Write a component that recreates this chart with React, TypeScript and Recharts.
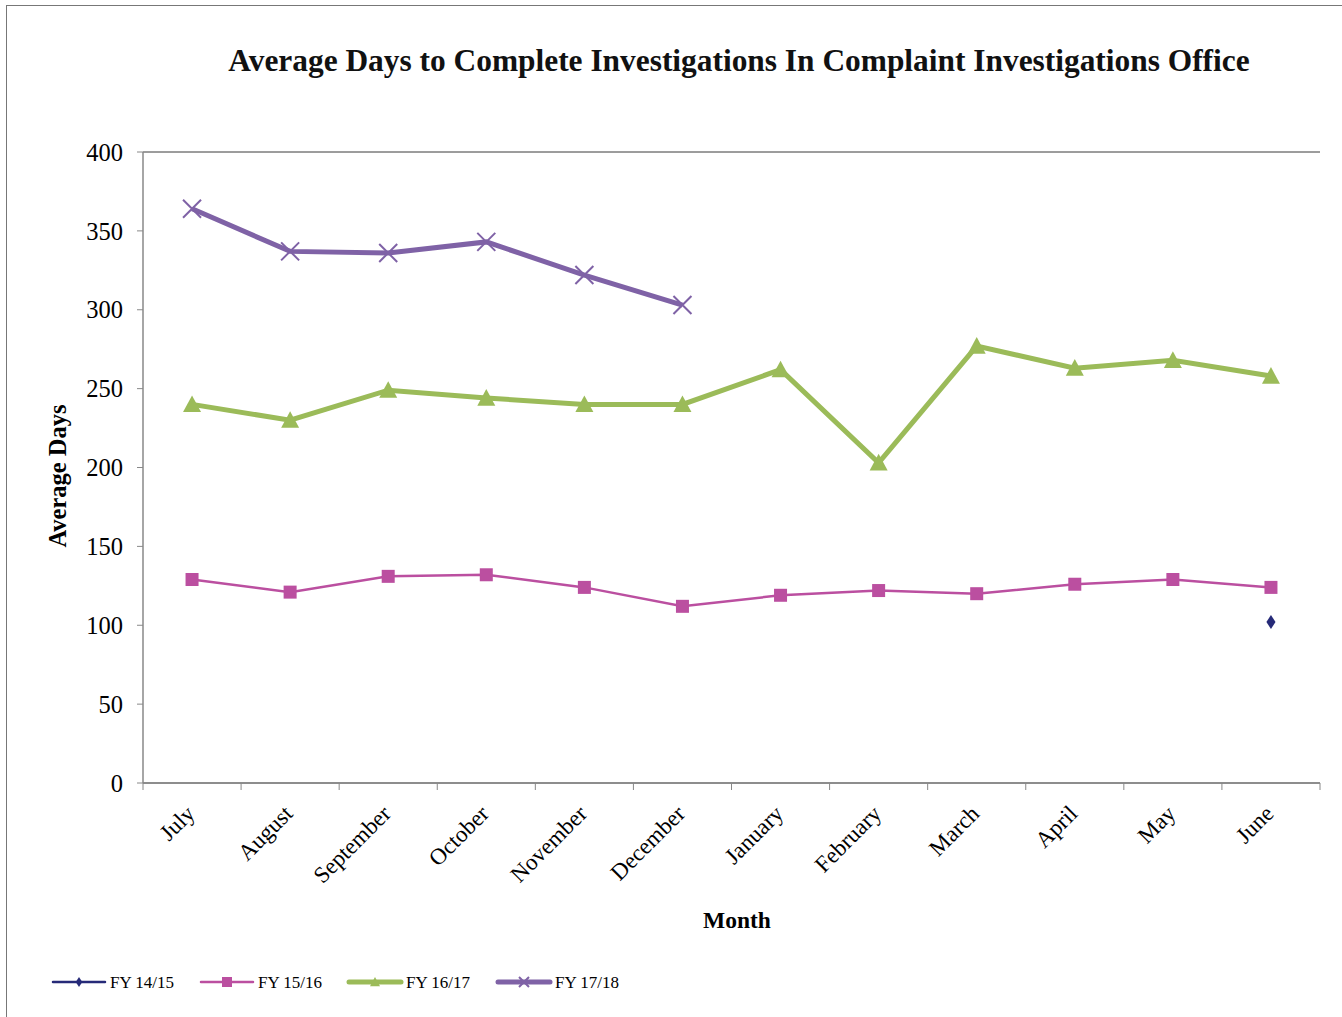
import React from 'react';
import { LineChart, Line, XAxis, YAxis, CartesianGrid } from 'recharts';

// 월별 데이터
const months = ['July', 'August', 'September', 'October', 'November', 'December', 'January', 'February', 'March', 'April', 'May', 'June'];
const fy1415 = [null, null, null, null, null, null, null, null, null, null, null, 102];
const fy1516 = [129, 121, 131, 132, 124, 112, 119, 122, 120, 126, 129, 124];
const fy1617 = [240, 230, 249, 244, 240, 240, 262, 203, 277, 263, 268, 258];
const fy1718 = [364, 337, 336, 343, 322, 303, null, null, null, null, null, null];
const yTicks = [0, 50, 100, 150, 200, 250, 300, 350, 400];

const data = months.map((m, i) => ({
  month: m,
  fy1415: fy1415[i],
  fy1516: fy1516[i],
  fy1617: fy1617[i],
  fy1718: fy1718[i],
}));

const NAVY = '#262a78';
const PINK = '#bb4fa0';
const GREEN = '#9bbb59';
const PURPLE = '#7f62a6';
const FONT = '"Liberation Serif", "Times New Roman", serif';

const PLOT_LEFT = 143;
const PLOT_RIGHT = 1320;
const PLOT_TOP = 152;
const PLOT_BOTTOM = 783;
const BAND = (PLOT_RIGHT - PLOT_LEFT) / months.length;
const X_AXIS_H = 100;

const Diamond = ({ cx, cy, s = 7 }: any) => (
  <path d={`M${cx},${cy - s}L${cx + s * 0.65},${cy}L${cx},${cy + s}L${cx - s * 0.65},${cy}Z`} fill={NAVY} />
);
const Square = ({ cx, cy, s = 6.5 }: any) => (
  <rect x={cx - s} y={cy - s} width={s * 2} height={s * 2} fill={PINK} />
);
const Triangle = ({ cx, cy, s = 9 }: any) => (
  <path d={`M${cx},${cy - s}L${cx + s},${cy + s * 0.85}L${cx - s},${cy + s * 0.85}Z`} fill={GREEN} />
);
const Cross = ({ cx, cy, s = 9 }: any) => (
  <path d={`M${cx - s},${cy - s}L${cx + s},${cy + s}M${cx + s},${cy - s}L${cx - s},${cy + s}`} stroke={PURPLE} strokeWidth={2} fill="none" />
);

const makeDot = (Shape: any) => (props: any) => {
  const { cx, cy, index, value } = props;
  if (value == null || cy == null || isNaN(cy)) return <g key={`d-${index}`} />;
  return <Shape key={`d-${index}`} cx={cx} cy={cy} />;
};

// X축 라벨 (회전) + 카테고리 경계 눈금
const MonthTick = ({ x, y, payload, index }: any) => {
  const tx = x + 4;
  const ty = y + 32;
  return (
    <g>
      <line x1={x - BAND / 2} y1={y} x2={x - BAND / 2} y2={y + 7} stroke="#888" />
      {index === months.length - 1 && (
        <line x1={x + BAND / 2} y1={y} x2={x + BAND / 2} y2={y + 7} stroke="#888" />
      )}
      <text x={tx} y={ty} textAnchor="end" fontSize={23} fontFamily={FONT} fill="#000" transform={`rotate(-45, ${tx}, ${ty})`}>
        {payload.value}
      </text>
    </g>
  );
};

const legendItems = [
  { name: 'FY 14/15', color: NAVY, width: 2.5, Shape: Diamond, x: 53 },
  { name: 'FY 15/16', color: PINK, width: 2.5, Shape: Square, x: 201 },
  { name: 'FY 16/17', color: GREEN, width: 5, Shape: Triangle, x: 349 },
  { name: 'FY 17/18', color: PURPLE, width: 5, Shape: Cross, x: 498 },
];

export default function App() {
  return (
    <div style={{ position: 'absolute', left: 0, top: 0, width: 1342, height: 1017, background: '#fff', overflow: 'hidden', fontFamily: FONT }}>
      <div style={{ position: 'absolute', left: 6, top: 5, width: 1345, height: 1030, border: '1.5px solid #777', boxSizing: 'border-box' }} />
      <div style={{ position: 'absolute', left: 0, top: 43, width: 1478, textAlign: 'center', fontSize: 31.4, fontWeight: 'bold', color: '#111' }}>
        Average Days to Complete Investigations In Complaint Investigations Office
      </div>
      <LineChart
        width={1342}
        height={1017}
        data={data}
        margin={{ top: PLOT_TOP, right: 1342 - PLOT_RIGHT, bottom: 1017 - PLOT_BOTTOM - X_AXIS_H, left: PLOT_LEFT - 60 }}
        style={{ position: 'absolute', left: 0, top: 0 }}
      >
        <CartesianGrid vertical={false} stroke="#3a3a3a" strokeWidth={1} />
        <XAxis
          dataKey="month"
          interval={0}
          tick={<MonthTick />}
          tickLine={false}
          tickSize={0}
          tickMargin={0}
          padding={{ left: BAND / 2, right: BAND / 2 }}
          axisLine={{ stroke: '#888', strokeWidth: 1.5 }}
          height={X_AXIS_H}
        />
        <YAxis
          yAxisId="left"
          domain={[0, 400]}
          ticks={yTicks}
          width={60}
          tick={{ fontSize: 24.5, fill: '#000', fontFamily: FONT }}
          tickSize={6}
          tickMargin={14}
          tickLine={{ stroke: '#888' }}
          axisLine={{ stroke: '#888', strokeWidth: 1.5 }}
        />
        <YAxis yAxisId="right" orientation="right" domain={[0, 400]} width={0} tick={false} tickLine={false} axisLine={{ stroke: '#aaa', strokeWidth: 1.5 }} />
        <Line yAxisId="left" dataKey="fy1415" stroke={NAVY} strokeWidth={2.5} dot={makeDot(Diamond)} activeDot={false} isAnimationActive={false} />
        <Line yAxisId="left" dataKey="fy1516" stroke={PINK} strokeWidth={2.5} dot={makeDot(Square)} activeDot={false} isAnimationActive={false} />
        <Line yAxisId="left" dataKey="fy1617" stroke={GREEN} strokeWidth={5} dot={makeDot(Triangle)} activeDot={false} isAnimationActive={false} />
        <Line yAxisId="left" dataKey="fy1718" stroke={PURPLE} strokeWidth={5} dot={makeDot(Cross)} activeDot={false} isAnimationActive={false} />
      </LineChart>
      <div style={{ position: 'absolute', left: 58, top: 476, transform: 'translate(-50%, -50%) rotate(-90deg)', fontSize: 24.5, fontWeight: 'bold', whiteSpace: 'nowrap' }}>
        Average Days
      </div>
      <div style={{ position: 'absolute', left: 737, top: 920, transform: 'translate(-50%, -50%)', fontSize: 23.5, fontWeight: 'bold' }}>
        Month
      </div>
      <svg width={700} height={30} style={{ position: 'absolute', left: 0, top: 968 }}>
        {legendItems.map((it) => (
          <g key={it.name}>
            <line x1={it.x} y1={14} x2={it.x + 52} y2={14} stroke={it.color} strokeWidth={it.width} strokeLinecap="round" />
            <it.Shape cx={it.x + 26} cy={14} s={5} />
            <text x={it.x + 57} y={20} fontSize={17} fontFamily={FONT} fill="#000">{it.name}</text>
          </g>
        ))}
      </svg>
    </div>
  );
}
